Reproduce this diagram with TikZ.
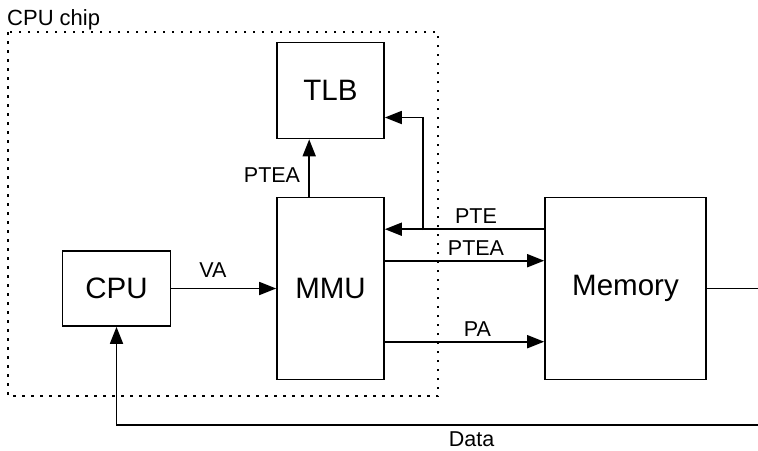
\documentclass[tikz,border=0pt]{standalone}
\usepackage{fontspec}
\setmainfont{Liberation Sans}
\usetikzlibrary{arrows.meta,calc}
\begin{document}
\begin{tikzpicture}[x=1pt,y=-1pt,
  box/.style={draw,line width=1.6pt,inner sep=0pt,font=\fontsize{29.5}{32}\selectfont},
  arr/.style={line width=1.6pt,-{Triangle[length=17pt,width=13pt]}},
  plain/.style={line width=1.6pt},
  lbl/.style={inner sep=0pt,font=\fontsize{21.5}{24}\selectfont},
  chip/.style={line width=1.5pt,dash pattern=on 2.5pt off 6.5pt}]
\useasboundingbox[fill=white] (0,0) rectangle (758,450);
\draw[chip] (8,32) rectangle (438,396);
\node[lbl,anchor=base west,font=\fontsize{22}{26}\selectfont] (chiplbl) at (7,25) {CPU chip};
\node[box,minimum width=108pt,minimum height=75pt] (cpu) at (116.5,288.5) {CPU};
\node[box,minimum width=107pt,minimum height=182pt] (mmu) at (330.5,288.5) {MMU};
\node[box,minimum width=107pt,minimum height=96pt] (tlb) at (330.5,90.5) {TLB};
\node[box,minimum width=161pt,minimum height=182pt] (memory) at (625.5,288.5) {Memory};
\coordinate (br) at (423,230);
\coordinate (memout) at (758,288.5);
\coordinate (dataR) at (758,425);
\draw[arr] (cpu.east) -- (mmu.west);
\draw[arr] ([xshift=33pt]mmu.north west) -- ([xshift=33pt]tlb.south west);
\draw[arr] ([yshift=-32.5pt]memory.north west) -- ([yshift=-32.5pt]mmu.north east);
\draw[arr] (br) |- ([yshift=-27pt]tlb.east);
\draw[arr] ([yshift=-64pt]mmu.north east) -- ([yshift=-64pt]memory.north west);
\draw[arr] ([yshift=-145pt]mmu.north east) -- ([yshift=-145pt]memory.north west);
\draw[plain] (memory.east) -- (memout);
\draw[arr] (dataR) -| (cpu.south);
\node[lbl] (va) at (213,270) {VA};
\node[lbl] (ptea1) at (272,175) {PTEA};
\node[lbl] (pte) at (476,216) {PTE};
\node[lbl] (ptea2) at (476,248) {PTEA};
\node[lbl] (pa) at (477.5,329) {PA};
\node[lbl] (data) at (471.5,439) {Data};
\end{tikzpicture}
\end{document}
